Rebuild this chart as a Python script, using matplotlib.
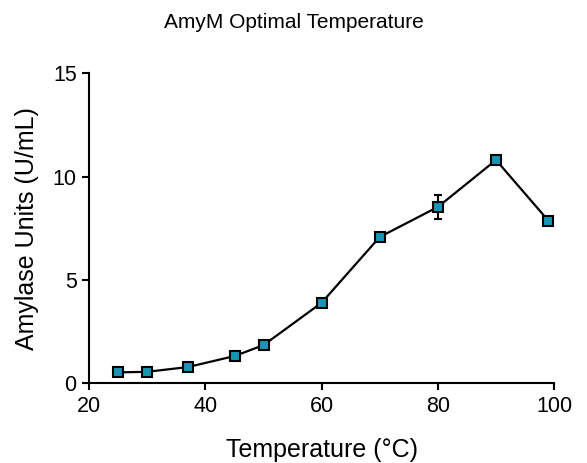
import matplotlib
matplotlib.use("Agg")
from matplotlib import pyplot as plt

# data
temperature = [25, 30, 37, 45, 50, 60, 70, 80, 90, 99]
units = [0.53, 0.56, 0.79, 1.32, 1.85, 3.90, 7.08, 8.53, 10.80, 7.87]
units_err = [0.05, 0.05, 0.05, 0.08, 0.07, 0.08, 0.08, 0.60, 0.10, 0.10]
x_ticks = [20, 40, 60, 80, 100]
y_ticks = [0, 5, 10, 15]

plt.rcParams['font.family'] = ['Liberation Sans', 'DejaVu Sans']

fig = plt.figure(figsize=(5.87, 4.63), dpi=100)
ax = fig.add_axes([0.152, 0.172, 0.792, 0.670])

ax.errorbar(temperature, units, yerr=units_err, color='black', linewidth=1.6,
            marker='s', markersize=7, markerfacecolor='#1795b5',
            markeredgecolor='black', markeredgewidth=1.5,
            ecolor='black', elinewidth=1.5, capsize=3, capthick=1.5,
            clip_on=False, zorder=3)

ax.set_xlim(20, 100)
ax.set_ylim(0, 15)
ax.set_xticks(x_ticks)
ax.set_yticks(y_ticks)
ax.spines['top'].set_visible(False)
ax.spines['right'].set_visible(False)
for side in ('left', 'bottom'):
    ax.spines[side].set_linewidth(1.5)
ax.tick_params(direction='out', length=5, width=1.5, labelsize=15.5, pad=4)

ax.set_xlabel('Temperature (°C)', fontsize=18, labelpad=15)
ax.set_ylabel('Amylase Units (U/mL)', fontsize=18, labelpad=10)
fig.suptitle('AmyM Optimal Temperature', fontsize=15, y=0.972)

fig.savefig('out.png', dpi=100)
